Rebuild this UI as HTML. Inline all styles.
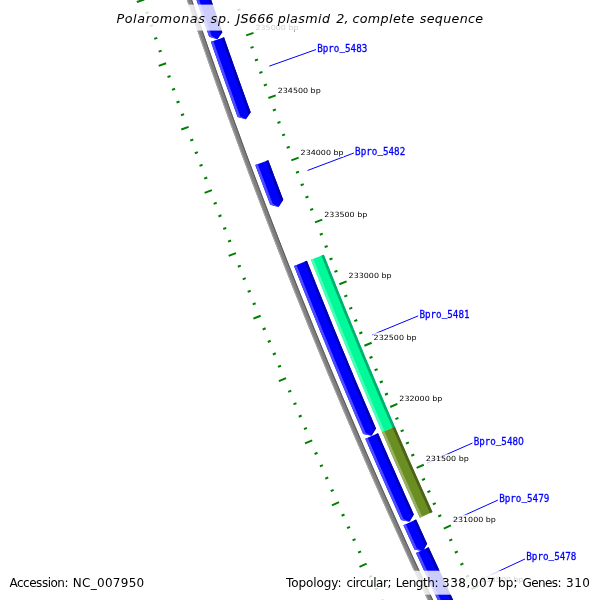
<!DOCTYPE html>
<html><head><meta charset="utf-8"><title>Polaromonas sp. JS666 plasmid 2</title>
<style>
html,body{margin:0;padding:0;background:#fff}
svg{display:block}
.tl{font-family:"DejaVu Sans","Liberation Sans",sans-serif;font-size:7.2px;fill:#000}
.fl{font-family:"DejaVu Sans Mono","Liberation Mono",monospace;font-size:11px;fill:#0000ff;stroke:#0000ff;stroke-width:0.3px}
.z{font-family:"DejaVu Sans","Liberation Sans",sans-serif}
.ti{font-family:"DejaVu Sans","Liberation Sans",sans-serif;font-style:italic;font-size:12.7px;fill:#000}
.lg{font-family:"DejaVu Sans","Liberation Sans",sans-serif;font-size:12px;fill:#000}
</style></head><body>
<svg width="600" height="600" viewBox="0 0 600 600">
<rect width="600" height="600" fill="#fff"/>
<path d="M161.38,-76.84 L165.51,-64.1 L169.68,-51.38 L173.87,-38.66 L178.09,-25.96 L182.35,-13.26 L186.63,-0.57 L190.94,12.1 L195.27,24.77 L199.64,37.43 L204.03,50.07 L208.46,62.71 L212.91,75.34 L217.39,87.95 L221.9,100.56 L226.44,113.16 L231.01,125.74 L235.61,138.32 L240.23,150.88 L244.89,163.44 L249.57,175.98 L254.28,188.51 L259.02,201.04 L263.79,213.55 L268.58,226.05 L273.41,238.54 L278.26,251.02 L283.14,263.48 L288.05,275.94 L292.99,288.38 L297.96,300.82 L302.95,313.24 L307.98,325.65 L313.03,338.05 L318.11,350.44 L323.22,362.82 L328.35,375.18 L333.52,387.53 L338.71,399.87 L343.93,412.2 L349.18,424.52 L354.45,436.83 L359.76,449.12 L365.09,461.4 L370.45,473.67 L375.84,485.93 L381.26,498.17 L386.7,510.4 L392.17,522.62 L397.67,534.83 L403.2,547.03 L408.75,559.21 L414.34,571.38 L419.95,583.53 L425.59,595.68 L431.25,607.81 L436.95,619.93 L442.67,632.03 L448.42,644.13 L454.19,656.2 L460,668.27 L464.5,666.1 L458.7,654.04 L452.93,641.97 L447.19,629.89 L441.47,617.8 L435.78,605.69 L430.12,593.57 L424.49,581.43 L418.88,569.29 L413.3,557.13 L407.75,544.96 L402.23,532.77 L396.73,520.58 L391.27,508.37 L385.83,496.14 L380.41,483.91 L375.03,471.66 L369.67,459.41 L364.35,447.13 L359.05,434.85 L353.77,422.56 L348.53,410.25 L343.31,397.93 L338.13,385.6 L332.97,373.26 L327.83,360.9 L322.73,348.54 L317.66,336.16 L312.61,323.77 L307.59,311.37 L302.6,298.96 L297.64,286.54 L292.7,274.1 L287.8,261.66 L282.92,249.2 L278.07,236.73 L273.25,224.25 L268.46,211.76 L263.69,199.26 L258.96,186.75 L254.25,174.23 L249.57,161.69 L244.92,149.15 L240.3,136.6 L235.71,124.03 L231.15,111.46 L226.61,98.87 L222.1,86.28 L217.63,73.67 L213.18,61.05 L208.76,48.43 L204.36,35.79 L200,23.15 L195.67,10.49 L191.36,-2.18 L187.09,-14.85 L182.84,-27.54 L178.62,-40.23 L174.43,-52.94 L170.27,-65.65 L166.14,-78.38Z" fill="#808080"/>
<path d="M161.38,-76.84 L165.51,-64.1 L169.68,-51.38 L173.87,-38.66 L178.09,-25.96 L182.35,-13.26 L186.63,-0.57 L190.94,12.1 L195.27,24.77 L199.64,37.43 L204.03,50.07 L208.46,62.71 L212.91,75.34 L217.39,87.95 L221.9,100.56 L226.44,113.16 L231.01,125.74 L235.61,138.32 L240.23,150.88 L244.89,163.44 L249.57,175.98 L254.28,188.51 L259.02,201.04 L263.79,213.55 L268.58,226.05 L273.41,238.54 L278.26,251.02 L283.14,263.48 L288.05,275.94 L292.99,288.38 L297.96,300.82 L302.95,313.24 L307.98,325.65 L313.03,338.05 L318.11,350.44 L323.22,362.82 L328.35,375.18 L333.52,387.53 L338.71,399.87 L343.93,412.2 L349.18,424.52 L354.45,436.83 L359.76,449.12 L365.09,461.4 L370.45,473.67 L375.84,485.93 L381.26,498.17 L386.7,510.4 L392.17,522.62 L397.67,534.83 L403.2,547.03 L408.75,559.21 L414.34,571.38 L419.95,583.53 L425.59,595.68 L431.25,607.81 L436.95,619.93 L442.67,632.03 L448.42,644.13 L454.19,656.2 L460,668.27 L460.9,667.84 L455.09,655.77 L449.32,643.69 L443.57,631.6 L437.85,619.5 L432.16,607.39 L426.49,595.26 L420.86,583.11 L415.25,570.96 L409.66,558.79 L404.11,546.61 L398.58,534.42 L393.08,522.21 L387.61,510 L382.17,497.77 L376.75,485.52 L371.37,473.27 L366.01,461 L360.68,448.72 L355.37,436.43 L350.1,424.13 L344.85,411.81 L339.63,399.49 L334.44,387.15 L329.27,374.8 L324.14,362.43 L319.03,350.06 L313.95,337.67 L308.9,325.28 L303.88,312.87 L298.89,300.45 L293.92,288.01 L288.98,275.57 L284.07,263.12 L279.19,250.65 L274.34,238.18 L269.52,225.69 L264.72,213.19 L259.95,200.68 L255.22,188.16 L250.51,175.63 L245.82,163.09 L241.17,150.54 L236.55,137.97 L231.95,125.4 L227.38,112.82 L222.85,100.22 L218.34,87.62 L213.85,75 L209.4,62.38 L204.98,49.75 L200.58,37.1 L196.22,24.45 L191.88,11.78 L187.57,-0.89 L183.29,-13.58 L179.04,-26.27 L174.82,-38.98 L170.63,-51.69 L166.47,-64.41 L162.33,-77.14Z" fill="#a6a6a6"/>
<path d="M165.19,-78.07 L169.32,-65.34 L173.48,-52.63 L177.67,-39.92 L181.89,-27.22 L186.14,-14.53 L190.41,-1.86 L194.72,10.81 L199.06,23.47 L203.42,36.12 L207.81,48.76 L212.23,61.39 L216.68,74 L221.16,86.61 L225.67,99.21 L230.21,111.8 L234.77,124.37 L239.36,136.94 L243.99,149.5 L248.64,162.04 L253.31,174.58 L258.02,187.1 L262.76,199.62 L267.52,212.12 L272.32,224.61 L277.14,237.09 L281.99,249.56 L286.87,262.02 L291.77,274.47 L296.71,286.91 L301.67,299.33 L306.66,311.74 L311.68,324.15 L316.73,336.54 L321.81,348.92 L326.91,361.29 L332.04,373.64 L337.2,385.99 L342.39,398.32 L347.61,410.64 L352.85,422.95 L358.13,435.25 L363.43,447.53 L368.76,459.8 L374.11,472.07 L379.5,484.31 L384.91,496.55 L390.35,508.77 L395.82,520.99 L401.32,533.18 L406.84,545.37 L412.39,557.54 L417.97,569.71 L423.58,581.85 L429.21,593.99 L434.87,606.11 L440.56,618.22 L446.28,630.32 L452.03,642.4 L457.8,654.47 L463.6,666.53 L464.5,666.1 L458.7,654.04 L452.93,641.97 L447.19,629.89 L441.47,617.8 L435.78,605.69 L430.12,593.57 L424.49,581.43 L418.88,569.29 L413.3,557.13 L407.75,544.96 L402.23,532.77 L396.73,520.58 L391.27,508.37 L385.83,496.14 L380.41,483.91 L375.03,471.66 L369.67,459.41 L364.35,447.13 L359.05,434.85 L353.77,422.56 L348.53,410.25 L343.31,397.93 L338.13,385.6 L332.97,373.26 L327.83,360.9 L322.73,348.54 L317.66,336.16 L312.61,323.77 L307.59,311.37 L302.6,298.96 L297.64,286.54 L292.7,274.1 L287.8,261.66 L282.92,249.2 L278.07,236.73 L273.25,224.25 L268.46,211.76 L263.69,199.26 L258.96,186.75 L254.25,174.23 L249.57,161.69 L244.92,149.15 L240.3,136.6 L235.71,124.03 L231.15,111.46 L226.61,98.87 L222.1,86.28 L217.63,73.67 L213.18,61.05 L208.76,48.43 L204.36,35.79 L200,23.15 L195.67,10.49 L191.36,-2.18 L187.09,-14.85 L182.84,-27.54 L178.62,-40.23 L174.43,-52.94 L170.27,-65.65 L166.14,-78.38Z" fill="#5a5a5a"/>
<path d="M186.82,-28.87 L188.65,-23.38 L190.49,-17.9 L192.33,-12.42 L194.18,-6.94 L196.04,-1.47 L197.9,4.01 L199.76,9.48 L201.63,14.95 L203.51,20.42 L205.39,25.89 L207.27,31.35 L209.16,36.82 L217.35,39.21 L222.3,32.26 L220.41,26.81 L218.53,21.36 L216.65,15.91 L214.78,10.45 L212.92,4.99 L211.06,-0.47 L209.2,-5.93 L207.35,-11.39 L205.51,-16.86 L203.67,-22.33 L201.84,-27.79 L200.01,-33.27Z" fill="#0000ff"/>
<path d="M186.82,-28.87 L188.65,-23.38 L190.49,-17.9 L192.33,-12.42 L194.18,-6.94 L196.04,-1.47 L197.9,4.01 L199.76,9.48 L201.63,14.95 L203.51,20.42 L205.39,25.89 L207.27,31.35 L209.16,36.82 L217.35,39.21 L211.66,35.95 L209.77,30.49 L207.88,25.03 L206,19.56 L204.13,14.1 L202.26,8.63 L200.4,3.16 L198.54,-2.31 L196.69,-7.79 L194.84,-13.26 L193,-18.74 L191.16,-24.22 L189.33,-29.7Z" fill="#4d4dff"/>
<path d="M197.5,-32.43 L199.33,-26.96 L201.17,-21.49 L203,-16.02 L204.85,-10.55 L206.7,-5.08 L208.56,0.38 L210.42,5.84 L212.28,11.3 L214.15,16.76 L216.03,22.22 L217.91,27.68 L219.8,33.13 L217.35,39.21 L222.3,32.26 L220.41,26.81 L218.53,21.36 L216.65,15.91 L214.78,10.45 L212.92,4.99 L211.06,-0.47 L209.2,-5.93 L207.35,-11.39 L205.51,-16.86 L203.67,-22.33 L201.84,-27.79 L200.01,-33.27Z" fill="#0000b2"/>
<path d="M210.92,41.87 L212.79,47.25 L214.67,52.63 L216.56,58.01 L218.45,63.39 L220.35,68.77 L222.25,74.14 L224.15,79.51 L226.07,84.88 L227.98,90.25 L229.91,95.62 L231.83,100.98 L233.76,106.35 L235.7,111.71 L237.65,117.07 L245.87,119.34 L250.71,112.32 L248.77,106.98 L246.84,101.63 L244.91,96.28 L242.99,90.93 L241.07,85.57 L239.16,80.22 L237.25,74.86 L235.35,69.5 L233.45,64.14 L231.56,58.77 L229.68,53.41 L227.79,48.04 L225.92,42.67 L224.05,37.3Z" fill="#0000ff"/>
<path d="M210.92,41.87 L212.79,47.25 L214.67,52.63 L216.56,58.01 L218.45,63.39 L220.35,68.77 L222.25,74.14 L224.15,79.51 L226.07,84.88 L227.98,90.25 L229.91,95.62 L231.83,100.98 L233.76,106.35 L235.7,111.71 L237.65,117.07 L245.87,119.34 L240.13,116.17 L238.19,110.81 L236.25,105.45 L234.32,100.09 L232.39,94.73 L230.47,89.36 L228.55,84 L226.64,78.63 L224.74,73.26 L222.84,67.89 L220.94,62.51 L219.05,57.14 L217.17,51.76 L215.29,46.38 L213.41,41Z" fill="#4d4dff"/>
<path d="M221.55,38.17 L223.42,43.54 L225.3,48.91 L227.18,54.28 L229.07,59.65 L230.96,65.02 L232.86,70.38 L234.76,75.74 L236.67,81.1 L238.58,86.46 L240.5,91.82 L242.43,97.17 L244.36,102.52 L246.29,107.88 L248.23,113.22 L245.87,119.34 L250.71,112.32 L248.77,106.98 L246.84,101.63 L244.91,96.28 L242.99,90.93 L241.07,85.57 L239.16,80.22 L237.25,74.86 L235.35,69.5 L233.45,64.14 L231.56,58.77 L229.68,53.41 L227.79,48.04 L225.92,42.67 L224.05,37.3Z" fill="#0000b2"/>
<path d="M255.28,164.99 L257.41,170.68 L259.54,176.37 L261.68,182.05 L263.82,187.73 L265.97,193.41 L268.12,199.09 L270.28,204.77 L278.54,206.91 L283.27,199.81 L281.11,194.15 L278.97,188.49 L276.82,182.82 L274.68,177.15 L272.55,171.48 L270.43,165.81 L268.31,160.13Z" fill="#0000ff"/>
<path d="M255.28,164.99 L257.41,170.68 L259.54,176.37 L261.68,182.05 L263.82,187.73 L265.97,193.41 L268.12,199.09 L270.28,204.77 L278.54,206.91 L272.75,203.83 L270.59,198.15 L268.44,192.48 L266.29,186.8 L264.15,181.12 L262.01,175.44 L259.88,169.75 L257.76,164.07Z" fill="#4d4dff"/>
<path d="M265.83,161.06 L267.95,166.73 L270.08,172.41 L272.21,178.08 L274.35,183.75 L276.5,189.42 L278.65,195.09 L280.8,200.76 L278.54,206.91 L283.27,199.81 L281.11,194.15 L278.97,188.49 L276.82,182.82 L274.68,177.15 L272.55,171.48 L270.43,165.81 L268.31,160.13Z" fill="#0000b2"/>
<path d="M294.01,265.97 L296.03,271.09 L298.05,276.21 L300.08,281.32 L302.12,286.44 L304.16,291.55 L306.2,296.66 L308.25,301.77 L310.31,306.88 L312.37,311.99 L314.43,317.09 L316.5,322.19 L318.57,327.29 L320.65,332.39 L322.74,337.48 L324.82,342.58 L326.92,347.67 L329.01,352.76 L331.12,357.85 L333.22,362.93 L335.33,368.02 L337.45,373.1 L339.57,378.18 L341.7,383.26 L343.83,388.33 L345.97,393.41 L348.11,398.48 L350.25,403.55 L352.4,408.62 L354.56,413.68 L356.71,418.75 L358.88,423.81 L361.05,428.87 L363.22,433.93 L371.56,435.72 L375.99,428.43 L373.82,423.39 L371.66,418.34 L369.5,413.29 L367.34,408.24 L365.19,403.18 L363.05,398.13 L360.91,393.07 L358.77,388.01 L356.64,382.95 L354.52,377.88 L352.4,372.82 L350.28,367.75 L348.17,362.68 L346.06,357.61 L343.96,352.53 L341.86,347.46 L339.77,342.38 L337.68,337.3 L335.6,332.22 L333.52,327.13 L331.45,322.05 L329.38,316.96 L327.31,311.87 L325.26,306.78 L323.2,301.69 L321.15,296.59 L319.11,291.49 L317.07,286.39 L315.03,281.29 L313,276.19 L310.98,271.09 L308.95,265.98 L306.94,260.87Z" fill="#0000ff"/>
<path d="M294.01,265.97 L296.03,271.09 L298.05,276.21 L300.08,281.32 L302.12,286.44 L304.16,291.55 L306.2,296.66 L308.25,301.77 L310.31,306.88 L312.37,311.99 L314.43,317.09 L316.5,322.19 L318.57,327.29 L320.65,332.39 L322.74,337.48 L324.82,342.58 L326.92,347.67 L329.01,352.76 L331.12,357.85 L333.22,362.93 L335.33,368.02 L337.45,373.1 L339.57,378.18 L341.7,383.26 L343.83,388.33 L345.97,393.41 L348.11,398.48 L350.25,403.55 L352.4,408.62 L354.56,413.68 L356.71,418.75 L358.88,423.81 L361.05,428.87 L363.22,433.93 L371.56,435.72 L365.65,432.88 L363.47,427.83 L361.31,422.77 L359.14,417.71 L356.99,412.65 L354.83,407.59 L352.68,402.52 L350.54,397.45 L348.4,392.38 L346.26,387.31 L344.13,382.24 L342.01,377.16 L339.89,372.08 L337.77,367 L335.66,361.92 L333.56,356.84 L331.45,351.75 L329.36,346.66 L327.27,341.58 L325.18,336.48 L323.1,331.39 L321.02,326.29 L318.95,321.2 L316.88,316.1 L314.82,311 L312.76,305.89 L310.7,300.79 L308.66,295.68 L306.61,290.57 L304.57,285.46 L302.54,280.35 L300.51,275.23 L298.48,270.12 L296.46,265Z" fill="#4d4dff"/>
<path d="M304.48,261.84 L306.5,266.95 L308.52,272.06 L310.55,277.17 L312.58,282.27 L314.61,287.37 L316.66,292.48 L318.7,297.58 L320.75,302.67 L322.81,307.77 L324.87,312.86 L326.93,317.95 L329,323.04 L331.08,328.13 L333.16,333.22 L335.24,338.3 L337.33,343.38 L339.42,348.47 L341.52,353.54 L343.62,358.62 L345.73,363.69 L347.84,368.77 L349.96,373.84 L352.08,378.91 L354.21,383.97 L356.34,389.04 L358.48,394.1 L360.62,399.16 L362.76,404.22 L364.91,409.27 L367.07,414.33 L369.23,419.38 L371.39,424.43 L373.56,429.48 L371.56,435.72 L375.99,428.43 L373.82,423.39 L371.66,418.34 L369.5,413.29 L367.34,408.24 L365.19,403.18 L363.05,398.13 L360.91,393.07 L358.77,388.01 L356.64,382.95 L354.52,377.88 L352.4,372.82 L350.28,367.75 L348.17,362.68 L346.06,357.61 L343.96,352.53 L341.86,347.46 L339.77,342.38 L337.68,337.3 L335.6,332.22 L333.52,327.13 L331.45,322.05 L329.38,316.96 L327.31,311.87 L325.26,306.78 L323.2,301.69 L321.15,296.59 L319.11,291.49 L317.07,286.39 L315.03,281.29 L313,276.19 L310.98,271.09 L308.95,265.98 L306.94,260.87Z" fill="#0000b2"/>
<path d="M365.28,438.72 L367.49,443.82 L369.7,448.92 L371.91,454.01 L374.13,459.11 L376.35,464.2 L378.58,469.29 L380.81,474.38 L383.04,479.46 L385.29,484.55 L387.53,489.63 L389.78,494.71 L392.04,499.79 L394.3,504.86 L396.57,509.93 L398.84,515.01 L401.11,520.07 L409.48,521.73 L413.79,514.38 L411.52,509.32 L409.26,504.26 L406.99,499.2 L404.74,494.14 L402.49,489.07 L400.24,484 L398,478.93 L395.77,473.86 L393.53,468.79 L391.31,463.71 L389.08,458.63 L386.87,453.55 L384.66,448.47 L382.45,443.39 L380.25,438.3 L378.05,433.21Z" fill="#0000ff"/>
<path d="M365.28,438.72 L367.49,443.82 L369.7,448.92 L371.91,454.01 L374.13,459.11 L376.35,464.2 L378.58,469.29 L380.81,474.38 L383.04,479.46 L385.29,484.55 L387.53,489.63 L389.78,494.71 L392.04,499.79 L394.3,504.86 L396.57,509.93 L398.84,515.01 L401.11,520.07 L409.48,521.73 L403.52,518.99 L401.25,513.93 L398.98,508.86 L396.71,503.79 L394.45,498.71 L392.2,493.64 L389.95,488.56 L387.7,483.48 L385.46,478.4 L383.23,473.32 L380.99,468.23 L378.77,463.14 L376.55,458.05 L374.33,452.96 L372.12,447.87 L369.91,442.77 L367.71,437.67Z" fill="#4d4dff"/>
<path d="M375.62,434.26 L377.82,439.35 L380.03,444.44 L382.23,449.52 L384.45,454.61 L386.66,459.69 L388.89,464.77 L391.12,469.85 L393.35,474.93 L395.59,480 L397.83,485.07 L400.07,490.14 L402.33,495.21 L404.58,500.27 L406.84,505.34 L409.11,510.4 L411.38,515.46 L409.48,521.73 L413.79,514.38 L411.52,509.32 L409.26,504.26 L406.99,499.2 L404.74,494.14 L402.49,489.07 L400.24,484 L398,478.93 L395.77,473.86 L393.53,468.79 L391.31,463.71 L389.08,458.63 L386.87,453.55 L384.66,448.47 L382.45,443.39 L380.25,438.3 L378.05,433.21Z" fill="#0000b2"/>
<path d="M403.42,525.19 L405.61,530.07 L407.82,534.94 L410.03,539.81 L412.24,544.68 L414.45,549.55 L422.83,551.16 L427.1,543.78 L424.89,538.92 L422.68,534.07 L420.48,529.21 L418.28,524.35 L416.09,519.48Z" fill="#0000ff"/>
<path d="M403.42,525.19 L405.61,530.07 L407.82,534.94 L410.03,539.81 L412.24,544.68 L414.45,549.55 L422.83,551.16 L416.86,548.45 L414.64,543.59 L412.43,538.72 L410.22,533.85 L408.02,528.98 L405.82,524.11Z" fill="#4d4dff"/>
<path d="M413.68,520.57 L415.88,525.43 L418.07,530.3 L420.28,535.16 L422.49,540.02 L424.7,544.87 L422.83,551.16 L427.1,543.78 L424.89,538.92 L422.68,534.07 L420.48,529.21 L418.28,524.35 L416.09,519.48Z" fill="#0000b2"/>
<path d="M416.01,552.95 L418.32,558.01 L420.64,563.07 L422.97,568.13 L425.3,573.19 L427.64,578.24 L429.97,583.29 L432.32,588.34 L434.67,593.39 L437.02,598.43 L439.38,603.47 L441.74,608.51 L444.11,613.55 L446.49,618.59 L448.86,623.62 L457.26,625.12 L461.43,617.68 L459.06,612.66 L456.69,607.63 L454.33,602.61 L451.97,597.58 L449.62,592.55 L447.27,587.52 L444.92,582.48 L442.58,577.44 L440.25,572.4 L437.92,567.36 L435.6,562.32 L433.28,557.27 L430.96,552.22 L428.65,547.17Z" fill="#0000ff"/>
<path d="M416.01,552.95 L418.32,558.01 L420.64,563.07 L422.97,568.13 L425.3,573.19 L427.64,578.24 L429.97,583.29 L432.32,588.34 L434.67,593.39 L437.02,598.43 L439.38,603.47 L441.74,608.51 L444.11,613.55 L446.49,618.59 L448.86,623.62 L457.26,625.12 L451.25,622.49 L448.87,617.46 L446.5,612.43 L444.14,607.39 L441.77,602.35 L439.41,597.31 L437.06,592.27 L434.71,587.23 L432.37,582.18 L430.03,577.13 L427.7,572.08 L425.37,567.03 L423.05,561.97 L420.73,556.91 L418.41,551.85Z" fill="#4d4dff"/>
<path d="M426.25,548.27 L428.56,553.32 L430.88,558.37 L433.2,563.42 L435.52,568.47 L437.85,573.51 L440.19,578.55 L442.53,583.59 L444.87,588.63 L447.22,593.67 L449.58,598.7 L451.94,603.73 L454.3,608.76 L456.67,613.78 L459.04,618.81 L457.26,625.12 L461.43,617.68 L459.06,612.66 L456.69,607.63 L454.33,602.61 L451.97,597.58 L449.62,592.55 L447.27,587.52 L444.92,582.48 L442.58,577.44 L440.25,572.4 L437.92,567.36 L435.6,562.32 L433.28,557.27 L430.96,552.22 L428.65,547.17Z" fill="#0000b2"/>
<path d="M310.9,259.74 L312.86,264.7 L314.82,269.65 L316.78,274.61 L318.76,279.56 L320.73,284.51 L322.71,289.46 L324.69,294.41 L326.68,299.36 L328.68,304.3 L330.67,309.24 L332.68,314.18 L334.68,319.12 L336.69,324.06 L338.71,328.99 L340.73,333.93 L342.76,338.86 L344.78,343.79 L346.82,348.72 L348.86,353.64 L350.9,358.57 L352.95,363.49 L355,368.41 L357.05,373.33 L359.11,378.24 L361.18,383.16 L363.25,388.07 L365.32,392.98 L367.4,397.89 L369.48,402.8 L371.57,407.7 L373.66,412.61 L375.76,417.51 L377.86,422.41 L379.97,427.3 L382.08,432.2 L394.84,426.69 L392.73,421.81 L390.63,416.92 L388.54,412.03 L386.45,407.14 L384.36,402.25 L382.28,397.36 L380.2,392.46 L378.13,387.57 L376.06,382.67 L373.99,377.77 L371.93,372.86 L369.88,367.96 L367.82,363.05 L365.78,358.14 L363.74,353.23 L361.7,348.32 L359.66,343.41 L357.64,338.49 L355.61,333.57 L353.59,328.65 L351.58,323.73 L349.56,318.81 L347.56,313.88 L345.56,308.96 L343.56,304.03 L341.57,299.1 L339.58,294.17 L337.59,289.23 L335.61,284.29 L333.64,279.36 L331.67,274.42 L329.7,269.48 L327.74,264.53 L325.78,259.59 L323.83,254.64Z" fill="#00fa9a"/>
<path d="M310.9,259.74 L312.86,264.7 L314.82,269.65 L316.78,274.61 L318.76,279.56 L320.73,284.51 L322.71,289.46 L324.69,294.41 L326.68,299.36 L328.68,304.3 L330.67,309.24 L332.68,314.18 L334.68,319.12 L336.69,324.06 L338.71,328.99 L340.73,333.93 L342.76,338.86 L344.78,343.79 L346.82,348.72 L348.86,353.64 L350.9,358.57 L352.95,363.49 L355,368.41 L357.05,373.33 L359.11,378.24 L361.18,383.16 L363.25,388.07 L365.32,392.98 L367.4,397.89 L369.48,402.8 L371.57,407.7 L373.66,412.61 L375.76,417.51 L377.86,422.41 L379.97,427.3 L382.08,432.2 L384.5,431.15 L382.39,426.26 L380.29,421.36 L378.19,416.47 L376.09,411.57 L374,406.67 L371.92,401.76 L369.83,396.86 L367.76,391.95 L365.68,387.04 L363.61,382.13 L361.55,377.22 L359.49,372.31 L357.43,367.39 L355.38,362.47 L353.34,357.55 L351.3,352.63 L349.26,347.71 L347.23,342.78 L345.2,337.85 L343.17,332.93 L341.15,327.99 L339.14,323.06 L337.13,318.13 L335.12,313.19 L333.12,308.25 L331.13,303.31 L329.13,298.37 L327.15,293.43 L325.16,288.48 L323.18,283.53 L321.21,278.58 L319.24,273.63 L317.27,268.68 L315.31,263.73 L313.36,258.77Z" fill="#4dfcb8"/>
<path d="M321.37,255.61 L323.33,260.56 L325.29,265.51 L327.25,270.45 L329.21,275.39 L331.19,280.34 L333.16,285.28 L335.14,290.21 L337.13,295.15 L339.12,300.09 L341.11,305.02 L343.11,309.95 L345.11,314.88 L347.12,319.81 L349.13,324.73 L351.15,329.66 L353.17,334.58 L355.19,339.5 L357.22,344.42 L359.26,349.33 L361.3,354.25 L363.34,359.16 L365.39,364.07 L367.44,368.98 L369.5,373.89 L371.56,378.79 L373.62,383.69 L375.69,388.6 L377.77,393.5 L379.85,398.39 L381.93,403.29 L384.02,408.18 L386.11,413.07 L388.21,417.96 L390.31,422.85 L392.41,427.74 L394.84,426.69 L392.73,421.81 L390.63,416.92 L388.54,412.03 L386.45,407.14 L384.36,402.25 L382.28,397.36 L380.2,392.46 L378.13,387.57 L376.06,382.67 L373.99,377.77 L371.93,372.86 L369.88,367.96 L367.82,363.05 L365.78,358.14 L363.74,353.23 L361.7,348.32 L359.66,343.41 L357.64,338.49 L355.61,333.57 L353.59,328.65 L351.58,323.73 L349.56,318.81 L347.56,313.88 L345.56,308.96 L343.56,304.03 L341.57,299.1 L339.58,294.17 L337.59,289.23 L335.61,284.29 L333.64,279.36 L331.67,274.42 L329.7,269.48 L327.74,264.53 L325.78,259.59 L323.83,254.64Z" fill="#00af6c"/>
<path d="M382.08,432.2 L384.26,437.25 L386.45,442.3 L388.64,447.35 L390.84,452.39 L393.04,457.44 L395.24,462.48 L397.45,467.52 L399.67,472.56 L401.89,477.59 L404.12,482.63 L406.35,487.66 L408.58,492.69 L410.82,497.71 L413.07,502.74 L415.31,507.76 L417.57,512.78 L419.83,517.8 L432.5,512.09 L430.25,507.08 L428,502.07 L425.75,497.06 L423.52,492.05 L421.28,487.04 L419.05,482.02 L416.83,477 L414.61,471.98 L412.39,466.95 L410.18,461.93 L407.97,456.9 L405.77,451.87 L403.58,446.84 L401.39,441.81 L399.2,436.77 L397.02,431.73 L394.84,426.69Z" fill="#6b8e23"/>
<path d="M382.08,432.2 L384.26,437.25 L386.45,442.3 L388.64,447.35 L390.84,452.39 L393.04,457.44 L395.24,462.48 L397.45,467.52 L399.67,472.56 L401.89,477.59 L404.12,482.63 L406.35,487.66 L408.58,492.69 L410.82,497.71 L413.07,502.74 L415.31,507.76 L417.57,512.78 L419.83,517.8 L422.23,516.71 L419.98,511.7 L417.72,506.68 L415.48,501.66 L413.23,496.64 L410.99,491.61 L408.76,486.59 L406.53,481.56 L404.31,476.53 L402.09,471.49 L399.87,466.46 L397.66,461.42 L395.46,456.38 L393.26,451.34 L391.06,446.3 L388.87,441.25 L386.68,436.2 L384.5,431.15Z" fill="#97b065"/>
<path d="M392.41,427.74 L394.59,432.78 L396.78,437.82 L398.96,442.86 L401.16,447.9 L403.35,452.93 L405.56,457.96 L407.76,462.99 L409.97,468.02 L412.19,473.04 L414.41,478.07 L416.64,483.09 L418.87,488.11 L421.1,493.13 L423.34,498.14 L425.59,503.15 L427.84,508.17 L430.09,513.17 L432.5,512.09 L430.25,507.08 L428,502.07 L425.75,497.06 L423.52,492.05 L421.28,487.04 L419.05,482.02 L416.83,477 L414.61,471.98 L412.39,466.95 L410.18,461.93 L407.97,456.9 L405.77,451.87 L403.58,446.84 L401.39,441.81 L399.2,436.77 L397.02,431.73 L394.84,426.69Z" fill="#4b6319"/>
<path d="M394.85,624.86 L387.79,628.17 M471.64,588.89 L478.7,585.58 M389.14,612.65 L386.24,614 M466.02,576.85 L468.92,575.5 M383.47,600.42 L380.56,601.77 M460.42,564.8 L463.33,563.45 M377.82,588.18 L374.91,589.52 M454.85,552.73 L457.76,551.4 M372.2,575.93 L369.29,577.26 M449.31,540.66 L452.22,539.33 M366.6,563.66 L359.5,566.89 M443.8,528.57 L450.9,525.34 M361.04,551.39 L358.12,552.7 M438.31,516.47 L441.23,515.15 M355.5,539.1 L352.58,540.41 M432.86,504.35 L435.77,503.04 M349.99,526.79 L347.07,528.1 M427.43,492.22 L430.35,490.92 M344.51,514.48 L341.58,515.77 M422.02,480.08 L424.95,478.79 M339.06,502.15 L331.92,505.3 M416.65,467.93 L423.78,464.79 M333.63,489.81 L330.7,491.09 M411.3,455.77 L414.23,454.48 M328.23,477.45 L325.3,478.73 M405.98,443.59 L408.91,442.31 M322.87,465.09 L319.93,466.36 M400.69,431.4 L403.62,430.13 M317.52,452.71 L314.59,453.98 M395.42,419.2 L398.36,417.94 M312.21,440.32 L305.04,443.39 M390.19,406.99 L397.36,403.93 M306.93,427.92 L303.98,429.17 M384.98,394.77 L387.92,393.52 M301.67,415.51 L298.72,416.75 M379.8,382.53 L382.75,381.29 M296.44,403.08 L293.49,404.32 M374.64,370.28 L377.6,369.05 M291.24,390.64 L288.29,391.87 M369.52,358.02 L372.47,356.79 M286.07,378.19 L278.87,381.18 M364.42,345.75 L371.63,342.77 M280.93,365.73 L277.97,366.95 M359.35,333.47 L362.31,332.25 M275.82,353.26 L272.85,354.47 M354.31,321.18 L357.27,319.97 M270.73,340.78 L267.76,341.98 M349.3,308.87 L352.26,307.67 M265.67,328.28 L262.7,329.48 M344.31,296.56 L347.28,295.36 M260.64,315.77 L253.4,318.67 M339.36,284.23 L346.6,281.33 M255.64,303.25 L252.67,304.44 M334.43,271.89 L337.4,270.7 M250.67,290.72 L247.69,291.9 M329.53,259.54 L332.5,258.36 M245.73,278.18 L242.75,279.35 M324.65,247.18 L327.63,246 M240.81,265.63 L237.83,266.79 M319.81,234.8 L322.79,233.64 M235.93,253.07 L228.65,255.89 M314.99,222.42 L322.27,219.6 M231.07,240.49 L228.08,241.64 M310.21,210.02 L313.19,208.87 M226.24,227.91 L223.25,229.05 M305.45,197.62 L308.43,196.48 M221.44,215.31 L218.45,216.44 M300.71,185.2 L303.71,184.07 M216.67,202.7 L213.67,203.83 M296.01,172.77 L299,171.65 M211.92,190.08 L204.62,192.82 M291.34,160.34 L298.64,157.6 M207.21,177.45 L204.21,178.57 M286.69,147.89 L289.69,146.77 M202.52,164.81 L199.52,165.92 M282.07,135.43 L285.07,134.32 M197.87,152.16 L194.86,153.26 M277.48,122.96 L280.48,121.86 M193.24,139.5 L190.23,140.6 M272.92,110.48 L275.93,109.38 M188.64,126.83 L181.3,129.48 M268.39,97.99 L275.72,95.34 M184.07,114.15 L181.06,115.23 M263.88,85.49 L266.89,84.41 M179.53,101.45 L176.51,102.53 M259.4,72.98 L262.42,71.9 M175.02,88.75 L172,89.82 M254.96,60.46 L257.97,59.39 M170.53,76.04 L167.51,77.1 M250.54,47.93 L253.56,46.87 M166.08,63.31 L158.71,65.88 M246.15,35.38 L253.51,32.82 M161.65,50.58 L158.63,51.63 M241.78,22.83 L244.81,21.79 M157.26,37.84 L154.23,38.88 M237.45,10.27 L240.48,9.23 M152.89,25.08 L149.86,26.12 M233.15,-2.3 L236.17,-3.33 M148.55,12.32 L145.52,13.35 M228.87,-14.88 L231.9,-15.9 M144.24,-0.45 L136.85,2.03 M224.62,-27.47 L232.02,-29.95 M139.96,-13.24 L136.92,-12.22 M220.4,-40.07 L223.44,-41.08 M135.71,-26.03 L132.67,-25.02 M216.21,-52.68 L219.25,-53.68 M131.49,-38.83 L128.45,-37.83 M212.05,-65.3 L215.09,-66.3 M127.29,-51.64 L124.25,-50.65 M207.92,-77.93 L210.96,-78.92 M123.13,-64.46 L115.71,-62.06 M203.81,-90.56 L211.24,-92.96" stroke="#008000" stroke-width="2" fill="none"/>
<line x1="269.31" y1="66.15" x2="315.94" y2="49.55" stroke="#0000ff" stroke-width="1"/>
<text x="317.14" y="52.15" class="fl" textLength="50.2" lengthAdjust="spacingAndGlyphs">Bpro<tspan dy="-1.9">_</tspan><tspan dy="1.9">5483</tspan></text>
<line x1="307.56" y1="170.48" x2="353.87" y2="153" stroke="#0000ff" stroke-width="1"/>
<text x="355.07" y="154.7" class="fl" textLength="50.2" lengthAdjust="spacingAndGlyphs">Bpro<tspan dy="-1.9">_</tspan><tspan dy="1.9">5482</tspan></text>
<line x1="372.43" y1="334.77" x2="418.19" y2="315.89" stroke="#0000ff" stroke-width="1"/>
<text x="419.39" y="317.59" class="fl" textLength="50.2" lengthAdjust="spacingAndGlyphs">Bpro<tspan dy="-1.9">_</tspan><tspan dy="1.9">5481</tspan></text>
<line x1="427.14" y1="463.02" x2="472.43" y2="443.06" stroke="#0000ff" stroke-width="1"/>
<text x="473.63" y="444.76" class="fl" textLength="50.2" lengthAdjust="spacingAndGlyphs">Bpro<tspan dy="-1.9">_</tspan><tspan dy="1.9">548<tspan class="z">0</tspan></tspan></text>
<line x1="452.86" y1="520.52" x2="497.94" y2="500.07" stroke="#0000ff" stroke-width="1"/>
<text x="499.14" y="501.77" class="fl" textLength="50.2" lengthAdjust="spacingAndGlyphs">Bpro<tspan dy="-1.9">_</tspan><tspan dy="1.9">5479</tspan></text>
<line x1="480.21" y1="579.9" x2="525.05" y2="558.94" stroke="#0000ff" stroke-width="1"/>
<text x="526.25" y="560.04" class="fl" textLength="50.2" lengthAdjust="spacingAndGlyphs">Bpro<tspan dy="-1.9">_</tspan><tspan dy="1.9">5478</tspan></text>
<rect x="480.2" y="574.87" width="43.5" height="9.3" fill="#fff" fill-opacity="0.8"/>
<text x="480.7" y="581.87" class="tl" textLength="43" lengthAdjust="spacingAndGlyphs">230500 bp</text>
<rect x="452.4" y="514.74" width="43.5" height="9.3" fill="#fff" fill-opacity="0.8"/>
<text x="452.9" y="521.74" class="tl" textLength="43" lengthAdjust="spacingAndGlyphs">231000 bp</text>
<rect x="425.28" y="454.3" width="43.5" height="9.3" fill="#fff" fill-opacity="0.8"/>
<text x="425.78" y="461.3" class="tl" textLength="43" lengthAdjust="spacingAndGlyphs">231500 bp</text>
<rect x="398.86" y="393.55" width="43.5" height="9.3" fill="#fff" fill-opacity="0.8"/>
<text x="399.36" y="400.55" class="tl" textLength="43" lengthAdjust="spacingAndGlyphs">232000 bp</text>
<rect x="373.13" y="332.51" width="43.5" height="9.3" fill="#fff" fill-opacity="0.8"/>
<text x="373.63" y="339.51" class="tl" textLength="43" lengthAdjust="spacingAndGlyphs">232500 bp</text>
<rect x="348.1" y="271.18" width="43.5" height="9.3" fill="#fff" fill-opacity="0.8"/>
<text x="348.6" y="278.18" class="tl" textLength="43" lengthAdjust="spacingAndGlyphs">233000 bp</text>
<rect x="323.77" y="209.57" width="43.5" height="9.3" fill="#fff" fill-opacity="0.8"/>
<text x="324.27" y="216.57" class="tl" textLength="43" lengthAdjust="spacingAndGlyphs">233500 bp</text>
<rect x="300.14" y="147.69" width="43.5" height="9.3" fill="#fff" fill-opacity="0.8"/>
<text x="300.64" y="154.69" class="tl" textLength="43" lengthAdjust="spacingAndGlyphs">234000 bp</text>
<rect x="277.22" y="85.54" width="43.5" height="9.3" fill="#fff" fill-opacity="0.8"/>
<text x="277.72" y="92.54" class="tl" textLength="43" lengthAdjust="spacingAndGlyphs">234500 bp</text>
<rect x="255.01" y="23.13" width="43.5" height="9.3" fill="#fff" fill-opacity="0.8"/>
<text x="255.51" y="30.13" class="tl" textLength="43" lengthAdjust="spacingAndGlyphs">235000 bp</text>
<rect x="114" y="4.6" width="372" height="26" fill="#fff" fill-opacity="0.8"/>
<text class="ti" y="23"><tspan x="116.5" textLength="88.3" lengthAdjust="spacing">Polaromonas</tspan> <tspan x="210.6" textLength="20.3" lengthAdjust="spacing">sp.</tspan> <tspan x="236.4" textLength="37.2" lengthAdjust="spacing">JS666</tspan> <tspan x="277.7" textLength="52.4" lengthAdjust="spacing">plasmid</tspan> <tspan x="336.3" textLength="12.2" lengthAdjust="spacing">2,</tspan> <tspan x="352.4" textLength="61.8" lengthAdjust="spacing">complete</tspan> <tspan x="419.7" textLength="63.4" lengthAdjust="spacing">sequence</tspan></text>
<rect x="8" y="570.7" width="138" height="24" fill="#fff" fill-opacity="0.8"/>
<text class="lg" y="587.2"><tspan x="9.5" textLength="59.0" lengthAdjust="spacing">Accession:</tspan> <tspan x="72.75" textLength="71.5" lengthAdjust="spacing">NC_007950</tspan></text>
<rect x="283" y="570.7" width="309" height="24" fill="#fff" fill-opacity="0.8"/>
<text class="lg" y="587.2"><tspan x="286.0" textLength="55.5" lengthAdjust="spacing">Topology:</tspan> <tspan x="346.5" textLength="45.0" lengthAdjust="spacing">circular;</tspan> <tspan x="395.7" textLength="42.8" lengthAdjust="spacing">Length:</tspan> <tspan x="442.0" textLength="52.7" lengthAdjust="spacing">338,007</tspan> <tspan x="498.0" textLength="19.5" lengthAdjust="spacing">bp;</tspan> <tspan x="522.5" textLength="39.0" lengthAdjust="spacing">Genes:</tspan> <tspan x="566.0" textLength="24.0" lengthAdjust="spacing">310</tspan></text>
</svg>
</body></html>
